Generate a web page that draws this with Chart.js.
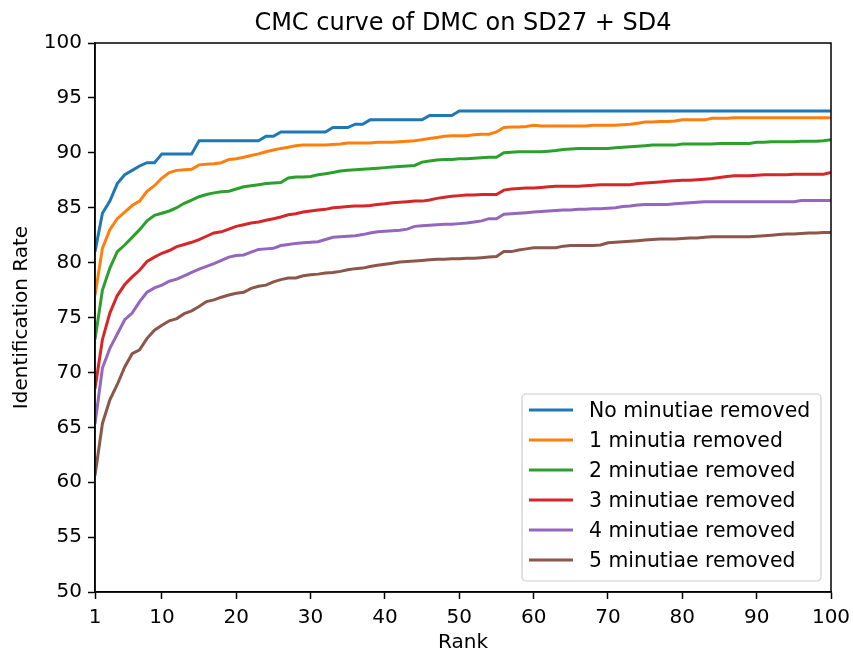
<!DOCTYPE html>
<html lang="en">
<head>
<meta charset="UTF-8">
<title>CMC curve of DMC on SD27 + SD4</title>
<script src="https://cdn.jsdelivr.net/npm/chart.js"></script>
<style>
  body { margin: 0; background: #fff; }
</style>
</head>
<body>
<canvas id="cmcChart" width="853" height="651"></canvas>
<script>
// Rank axis (1..100)
const ranks = [
  1, 2, 3, 4, 5, 6, 7, 8, 9, 10, 11, 12, 13, 14, 15, 16, 17, 18, 19, 20,
  21, 22, 23, 24, 25, 26, 27, 28, 29, 30, 31, 32, 33, 34, 35, 36, 37, 38, 39, 40,
  41, 42, 43, 44, 45, 46, 47, 48, 49, 50, 51, 52, 53, 54, 55, 56, 57, 58, 59, 60,
  61, 62, 63, 64, 65, 66, 67, 68, 69, 70, 71, 72, 73, 74, 75, 76, 77, 78, 79, 80,
  81, 82, 83, 84, 85, 86, 87, 88, 89, 90, 91, 92, 93, 94, 95, 96, 97, 98, 99, 100
];
const xTicks = [1, 10, 20, 30, 40, 50, 60, 70, 80, 90, 100];

// Identification rate (%) per rank
const noneRemoved = [
  81.0, 84.5, 85.6, 87.2, 88.0, 88.4, 88.8, 89.1, 89.1, 89.9,
  89.9, 89.9, 89.9, 89.9, 91.1, 91.1, 91.1, 91.1, 91.1, 91.1,
  91.1, 91.1, 91.1, 91.5, 91.5, 91.9, 91.9, 91.9, 91.9, 91.9,
  91.9, 91.9, 92.3, 92.3, 92.3, 92.6, 92.6, 93.0, 93.0, 93.0,
  93.0, 93.0, 93.0, 93.0, 93.0, 93.4, 93.4, 93.4, 93.4, 93.8,
  93.8, 93.8, 93.8, 93.8, 93.8, 93.8, 93.8, 93.8, 93.8, 93.8,
  93.8, 93.8, 93.8, 93.8, 93.8, 93.8, 93.8, 93.8, 93.8, 93.8,
  93.8, 93.8, 93.8, 93.8, 93.8, 93.8, 93.8, 93.8, 93.8, 93.8,
  93.8, 93.8, 93.8, 93.8, 93.8, 93.8, 93.8, 93.8, 93.8, 93.8,
  93.8, 93.8, 93.8, 93.8, 93.8, 93.8, 93.8, 93.8, 93.8, 93.8
];
const oneRemoved = [
  77.0, 81.3, 83.0, 84.0, 84.6, 85.2, 85.6, 86.5, 87.0, 87.7,
  88.2, 88.4, 88.45, 88.5, 88.9, 88.95, 89.0, 89.1, 89.4, 89.45,
  89.6, 89.75, 89.9, 90.1, 90.25, 90.4, 90.5, 90.65, 90.7, 90.7,
  90.7, 90.7, 90.75, 90.8, 90.9, 90.9, 90.9, 90.9, 90.95, 90.95,
  90.95, 91.0, 91.05, 91.1, 91.2, 91.3, 91.4, 91.5, 91.55, 91.55,
  91.55, 91.65, 91.7, 91.7, 91.9, 92.3, 92.35, 92.35, 92.4, 92.5,
  92.45, 92.45, 92.45, 92.45, 92.45, 92.45, 92.45, 92.5, 92.5, 92.5,
  92.5, 92.55, 92.6, 92.7, 92.8, 92.8, 92.85, 92.85, 92.9, 93.0,
  93.0, 93.0, 93.0, 93.15, 93.15, 93.15, 93.2, 93.2, 93.2, 93.2,
  93.2, 93.2, 93.2, 93.2, 93.2, 93.2, 93.2, 93.2, 93.2, 93.2
];
const twoRemoved = [
  73.0, 77.5, 79.5, 81.0, 81.6, 82.3, 83.0, 83.8, 84.3, 84.5,
  84.7, 85.0, 85.4, 85.7, 86.0, 86.2, 86.35, 86.45, 86.5, 86.7,
  86.9, 87.0, 87.1, 87.2, 87.25, 87.3, 87.7, 87.8, 87.8, 87.85,
  88.0, 88.1, 88.2, 88.35, 88.4, 88.45, 88.5, 88.55, 88.6, 88.65,
  88.7, 88.75, 88.8, 88.85, 89.15, 89.25, 89.35, 89.4, 89.4, 89.45,
  89.45, 89.5, 89.55, 89.6, 89.6, 90.0, 90.05, 90.1, 90.1, 90.1,
  90.1, 90.15, 90.2, 90.3, 90.35, 90.4, 90.4, 90.4, 90.4, 90.4,
  90.45, 90.5, 90.55, 90.6, 90.65, 90.7, 90.7, 90.7, 90.7, 90.8,
  90.8, 90.8, 90.8, 90.8, 90.85, 90.85, 90.85, 90.85, 90.85, 90.95,
  90.95, 91.0, 91.0, 91.0, 91.0, 91.05, 91.05, 91.05, 91.1, 91.2
];
const threeRemoved = [
  68.5, 73.0, 75.4, 77.0, 78.0, 78.7, 79.3, 80.1, 80.5, 80.85,
  81.1, 81.45, 81.65, 81.85, 82.1, 82.4, 82.7, 82.8, 83.05, 83.3,
  83.45, 83.6, 83.7, 83.85, 84.0, 84.15, 84.35, 84.45, 84.6, 84.7,
  84.8, 84.85, 85.0, 85.05, 85.1, 85.15, 85.15, 85.2, 85.3, 85.35,
  85.45, 85.5, 85.55, 85.6, 85.6, 85.7, 85.85, 85.95, 86.05, 86.1,
  86.15, 86.15, 86.2, 86.2, 86.2, 86.6, 86.7, 86.75, 86.8, 86.8,
  86.85, 86.9, 86.95, 86.95, 86.95, 86.95, 87.0, 87.05, 87.1, 87.1,
  87.1, 87.1, 87.1, 87.2, 87.25, 87.3, 87.35, 87.4, 87.45, 87.5,
  87.5, 87.55, 87.6, 87.65, 87.75, 87.85, 87.9, 87.9, 87.9, 87.95,
  88.0, 88.0, 88.0, 88.0, 88.05, 88.05, 88.05, 88.05, 88.05, 88.2
];
const fourRemoved = [
  65.3, 70.4, 72.2, 73.5, 74.8, 75.4, 76.45, 77.3, 77.7, 77.95,
  78.3, 78.5, 78.8, 79.1, 79.4, 79.65, 79.9, 80.2, 80.5, 80.65,
  80.7, 80.95, 81.2, 81.25, 81.3, 81.55, 81.65, 81.75, 81.8, 81.85,
  81.9, 82.1, 82.3, 82.35, 82.4, 82.45, 82.55, 82.7, 82.8, 82.85,
  82.9, 82.95, 83.05, 83.3, 83.35, 83.4, 83.45, 83.5, 83.5, 83.55,
  83.6, 83.7, 83.8, 84.0, 84.0, 84.4, 84.45, 84.5, 84.55, 84.6,
  84.65, 84.7, 84.75, 84.8, 84.8, 84.85, 84.85, 84.9, 84.9, 84.95,
  85.0, 85.1, 85.15, 85.25, 85.3, 85.3, 85.3, 85.3, 85.35, 85.4,
  85.45, 85.5, 85.55, 85.55, 85.55, 85.55, 85.55, 85.55, 85.55, 85.55,
  85.55, 85.55, 85.55, 85.55, 85.55, 85.65, 85.65, 85.65, 85.65, 85.65
];
const fiveRemoved = [
  60.6, 65.35, 67.5, 68.9, 70.5, 71.7, 72.05, 73.1, 73.85, 74.3,
  74.7, 74.9, 75.35, 75.6, 76.0, 76.45, 76.6, 76.85, 77.05, 77.2,
  77.3, 77.65, 77.85, 77.95, 78.25, 78.45, 78.6, 78.6, 78.8, 78.9,
  78.95, 79.05, 79.1, 79.2, 79.35, 79.45, 79.5, 79.65, 79.75, 79.85,
  79.95, 80.05, 80.1, 80.15, 80.2, 80.25, 80.3, 80.3, 80.35, 80.35,
  80.4, 80.4, 80.45, 80.5, 80.55, 81.0, 81.0, 81.15, 81.25, 81.35,
  81.35, 81.35, 81.35, 81.5, 81.55, 81.55, 81.55, 81.55, 81.6, 81.8,
  81.85, 81.9, 81.95, 82.0, 82.05, 82.1, 82.15, 82.15, 82.15, 82.2,
  82.25, 82.25, 82.3, 82.35, 82.35, 82.35, 82.35, 82.35, 82.35, 82.4,
  82.45, 82.5, 82.55, 82.6, 82.6, 82.65, 82.7, 82.7, 82.75, 82.75
];

const seriesLabels = [
  'No minutiae removed',
  '1 minutia removed',
  '2 minutiae removed',
  '3 minutiae removed',
  '4 minutiae removed',
  '5 minutiae removed'
];
const seriesValues = [noneRemoved, oneRemoved, twoRemoved, threeRemoved, fourRemoved, fiveRemoved];
const seriesColors = ['#1f77b4', '#ff7f0e', '#2ca02c', '#d62728', '#9467bd', '#8c564b'];

const FONT = '"DejaVu Sans", sans-serif';
Chart.defaults.font.family = FONT;
Chart.defaults.color = '#000';

// Title centered over the axes, like matplotlib does
const titlePlugin = {
  id: 'axesTitle',
  afterDraw(chart) {
    const { ctx, chartArea } = chart;
    ctx.save();
    ctx.font = '24px ' + FONT;
    ctx.fillStyle = '#000';
    ctx.textAlign = 'center';
    ctx.textBaseline = 'alphabetic';
    ctx.fillText('CMC curve of DMC on SD27 + SD4', (chartArea.left + chartArea.right) / 2, 30);
    ctx.restore();
  }
};

// Full box around the plot area
const framePlugin = {
  id: 'frame',
  afterDatasetsDraw(chart) {
    const { ctx, chartArea } = chart;
    ctx.save();
    ctx.strokeStyle = '#000';
    ctx.lineWidth = 1.5;
    ctx.strokeRect(chartArea.left, chartArea.top, chartArea.right - chartArea.left, chartArea.bottom - chartArea.top);
    ctx.restore();
  }
};

// Legend box in the lower right corner of the axes
const legendPlugin = {
  id: 'cornerLegend',
  afterDraw(chart) {
    const { ctx, chartArea } = chart;
    const w = 299, h = 187;
    const x = chartArea.right - 10 - w;
    const y = chartArea.bottom - 11 - h;
    ctx.save();
    ctx.beginPath();
    ctx.roundRect(x, y, w, h, 4);
    ctx.fillStyle = 'rgba(255,255,255,0.8)';
    ctx.fill();
    ctx.strokeStyle = '#cccccc';
    ctx.lineWidth = 1.2;
    ctx.stroke();
    ctx.font = '20.4px ' + FONT;
    ctx.textBaseline = 'middle';
    ctx.textAlign = 'left';
    chart.data.datasets.forEach((ds, i) => {
      const cy = y + 16 + i * 30;
      ctx.strokeStyle = ds.borderColor;
      ctx.lineWidth = 3;
      ctx.beginPath();
      ctx.moveTo(x + 7, cy);
      ctx.lineTo(x + 51, cy);
      ctx.stroke();
      ctx.fillStyle = '#000';
      ctx.fillText(ds.label, x + 67, cy + 2);
    });
    ctx.restore();
  }
};

const datasets = seriesLabels.map((label, i) => ({
  label: label,
  data: ranks.map((r, j) => ({ x: r, y: seriesValues[i][j] })),
  borderColor: seriesColors[i],
  backgroundColor: seriesColors[i],
  borderWidth: 3,
  pointRadius: 0,
  tension: 0,
  fill: false
}));

new Chart(document.getElementById('cmcChart'), {
  type: 'line',
  data: { datasets: datasets },
  options: {
    responsive: false,
    animation: false,
    layout: { padding: { top: 43, right: 22, bottom: 0, left: 0 } },
    plugins: {
      legend: { display: false },
      title: { display: false },
      tooltip: { enabled: false }
    },
    scales: {
      x: {
        type: 'linear',
        min: 1,
        max: 100,
        afterBuildTicks: (scale) => { scale.ticks = xTicks.map(v => ({ value: v })); },
        afterFit: (scale) => {
          scale.height = 59;
          // keep the plot box fixed; tick label overflow fits in the layout padding
          scale.paddingLeft = 0;
          scale.paddingRight = 0;
        },
        ticks: { font: { size: 20 }, padding: 7, maxRotation: 0 },
        grid: { display: true, drawOnChartArea: false, tickLength: 7, tickWidth: 1.5, tickColor: '#000' },
        border: { display: true, color: '#000', width: 1.5 },
        title: { display: true, text: 'Rank', font: { size: 20, lineHeight: 0.8 }, padding: { top: 0, bottom: 0 } }
      },
      y: {
        min: 50,
        max: 100,
        afterFit: (scale) => { scale.width = 95; },
        ticks: { stepSize: 5, font: { size: 20 }, padding: 6 },
        grid: { display: true, drawOnChartArea: false, tickLength: 7, tickWidth: 1.5, tickColor: '#000' },
        border: { display: true, color: '#000', width: 1.5 },
        title: { display: true, text: 'Identification Rate', font: { size: 20, lineHeight: 1.2 }, padding: { top: 10, bottom: 0 } }
      }
    }
  },
  plugins: [titlePlugin, framePlugin, legendPlugin]
});
</script>
</body>
</html>
